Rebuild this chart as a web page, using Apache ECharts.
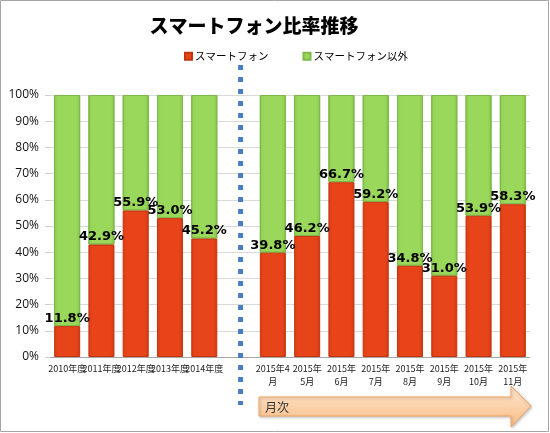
<!DOCTYPE html>
<html><head><meta charset="utf-8">
<script src="https://cdn.jsdelivr.net/npm/echarts@6/dist/echarts.min.js"></script>
<style>html,body{margin:0;padding:0;background:#fff}#c{width:550px;height:433px}</style>
</head><body><div id="c"></div>
<script>
var categories = ["2010年度","2011年度","2012年度","2013年度","2014年度","","2015年4\n月","2015年\n5月","2015年\n6月","2015年\n7月","2015年\n8月","2015年\n9月","2015年\n10月","2015年\n11月"];
var smartphone = [11.8, 42.9, 55.9, 53.0, 45.2, null, 39.8, 46.2, 66.7, 59.2, 34.8, 31.0, 53.9, 58.3];
var other = [88.2, 57.1, 44.1, 47.0, 54.8, null, 60.2, 53.8, 33.3, 40.8, 65.2, 69.0, 46.1, 41.7];
var seriesNames = ["スマートフォン", "スマートフォン以外"];
var yTicks = [0, 10, 20, 30, 40, 50, 60, 70, 80, 90, 100];

var chart = echarts.init(document.getElementById('c'));
var option = {
  backgroundColor: '#fff',
  animation: false,
  title: {
    text: 'スマートフォン比率推移', left: 249, top: 11, textAlign: 'center',
    textStyle: {fontFamily: 'Noto Sans CJK JP', fontWeight: 900, fontSize: 19, color: '#000'}
  },
  legend: {
    left: 179, top: 46, itemWidth: 7, itemHeight: 7, itemGap: 34,
    icon: 'rect',
    textStyle: {fontFamily: 'Noto Sans CJK JP', fontSize: 10.5, color: '#000', padding: [0,0,0,-2]}
  },
  grid: {left: 50, right: 20, top: 95, bottom: 76},
  xAxis: {
    type: 'category', data: categories,
    axisLine: {lineStyle: {color: '#a6a6a6'}},
    axisTick: {show: false},
    axisLabel: {interval: 0, fontFamily: 'Noto Sans CJK JP', fontSize: 9, color: '#222', lineHeight: 13, margin: 5}
  },
  yAxis: {
    type: 'value', min: 0, max: 100, interval: 10,
    axisLine: {show: false},
    axisTick: {show: true, length: 5, lineStyle: {color: '#d0d0d0'}},
    splitLine: {lineStyle: {color: '#d9d9d9'}},
    axisLabel: {formatter: function(v){ return yTicks.indexOf(v) >= 0 ? v + '%' : ''; }, fontFamily: 'Open Sans', fontSize: 12, color: '#111', margin: 11}
  },
  series: [
    {
      name: seriesNames[0], type: 'bar', stack: 's', data: smartphone, barWidth: '76%',
      itemStyle: {
        color: new echarts.graphic.LinearGradient(0,0,1,0,[{offset:0,color:'#d93b14'},{offset:0.15,color:'#e8441a'},{offset:0.85,color:'#e8441a'},{offset:1,color:'#d03812'}]),
        borderColor: '#c2360f', borderWidth: 1
      },
      label: {
        show: true, position: 'top', distance: 1,
        formatter: function(p){ return p.value.toFixed(1) + '%'; },
        fontFamily: 'DejaVu Sans', fontWeight: 'bold', fontSize: 13, color: '#000'
      },
      z: 3
    },
    {
      name: seriesNames[1], type: 'bar', stack: 's', data: other, barWidth: '76%',
      itemStyle: {
        color: new echarts.graphic.LinearGradient(0,0,1,0,[{offset:0,color:'#8ccc4d'},{offset:0.15,color:'#9ad85b'},{offset:0.85,color:'#9ad85b'},{offset:1,color:'#86c649'}]),
        borderColor: '#7fb84a', borderWidth: 1
      },
      z: 2
    }
  ]
};
option.legend.data = [
  {name: seriesNames[0], itemStyle: {color: '#e8441a'}},
  {name: seriesNames[1], itemStyle: {color: '#9ad85b'}}
];
chart.setOption(option);

var sepX = chart.convertToPixel({xAxisIndex: 0}, 5) + 2;
chart.setOption({
  graphic: [
    {type: 'rect', shape: {x: 0.5, y: 0.5, width: 548, height: 431}, style: {fill: 'none', stroke: '#a6a6a6', lineWidth: 1}, silent: true, z: 0},
    {type: 'line', shape: {x1: sepX, y1: 65, x2: sepX, y2: 405}, style: {stroke: '#4a7cc4', lineWidth: 5, lineDash: [5, 7]}, z: 10},
    {type: 'polygon', shape: {points: [[259,397],[511,397],[511,386],[531,406],[511,427],[511,416],[259,416]]},
      style: {fill: new echarts.graphic.LinearGradient(0,0,0,1,[{offset:0,color:'#fde6cf'},{offset:1,color:'#f9bd85'}]), stroke: '#f3a667', lineWidth: 1,
        shadowBlur: 3, shadowColor: 'rgba(0,0,0,0.25)', shadowOffsetX: 1, shadowOffsetY: 1}, z: 10},
    {type: 'text', style: {text: '月次', x: 265, y: 407, verticalAlign: 'middle', fontFamily: 'Noto Sans CJK JP', fontSize: 12, fill: '#333'}, z: 11}
  ]
});
</script></body></html>
